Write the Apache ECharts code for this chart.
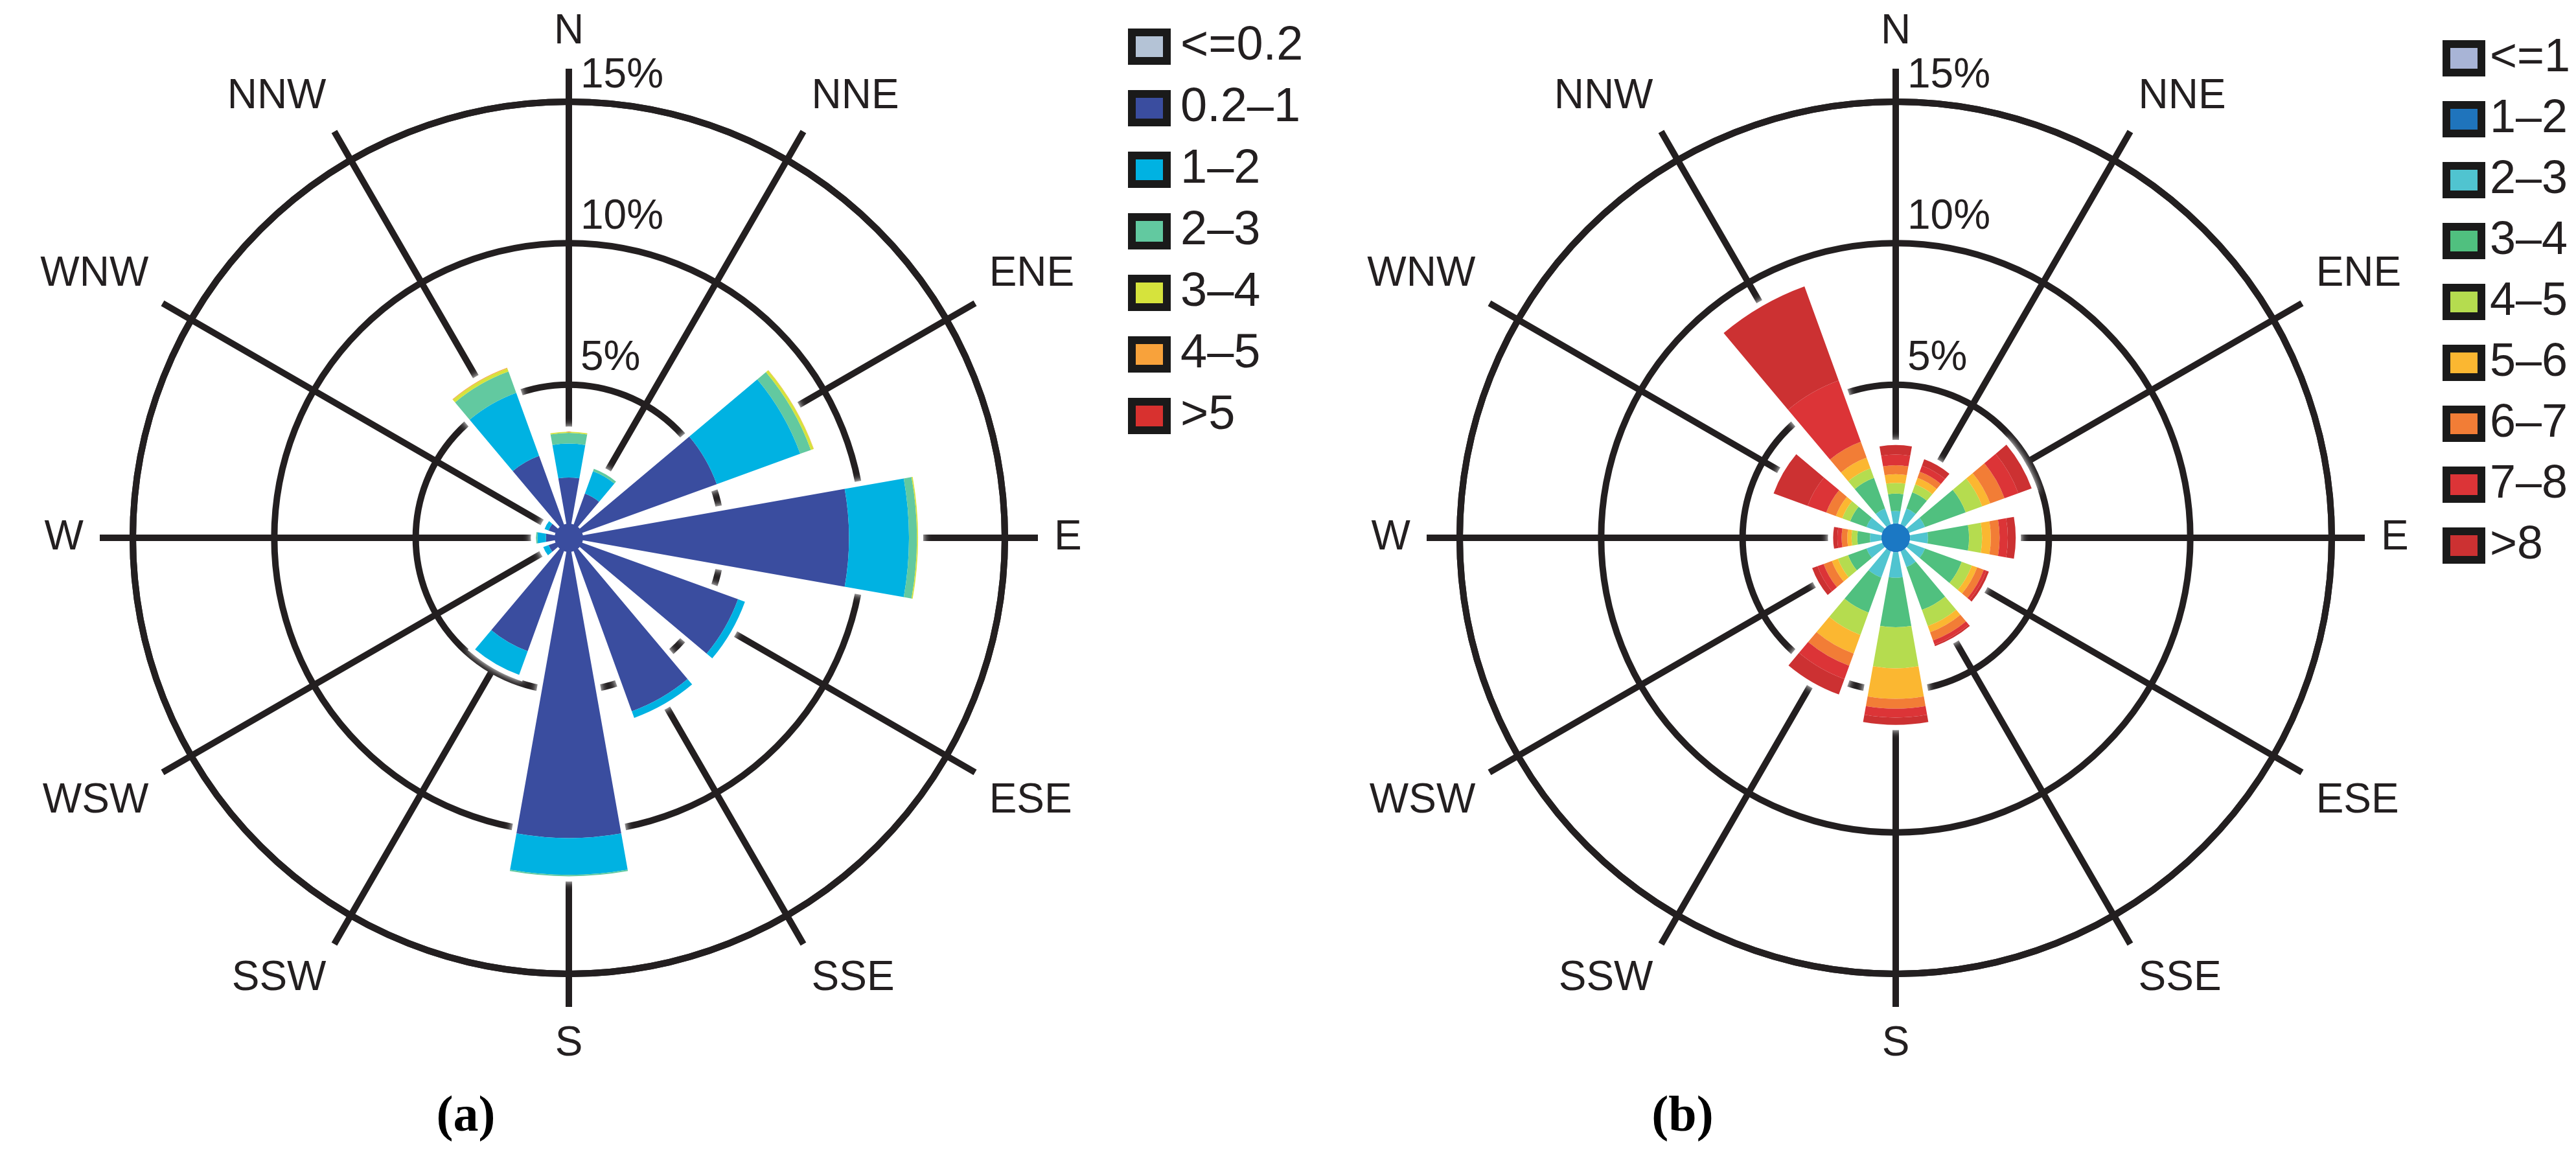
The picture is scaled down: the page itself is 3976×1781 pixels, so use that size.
<!DOCTYPE html>
<html>
<head>
<meta charset="utf-8">
<script src="https://cdn.jsdelivr.net/npm/echarts@6/dist/echarts.min.js"></script>
<style>
html,body{margin:0;padding:0;background:#ffffff;}
#chart{width:3976px;height:1781px;}
</style>
</head>
<body>
<div id="chart"></div>
<script>
// ---------- data ----------
const directions = ['N','NNE','ENE','E','ESE','SSE','S','SSW','WSW','W','WNW','NNW'];
const radiusTicks = [0, 5, 10, 15];

// (a) speed bins
const binsA = ['<=0.2','0.2–1','1–2','2–3','3–4','4–5','>5'];
const aLe02  = [0.05,0.05,0.05,0.05,0.05,0.05,0.05,0.05,0.05,0.05,0.05,0.05];
const a02to1 = [1.67,1.20,5.10,9.44,5.90,6.06,10.15,3.80,0.30,0.35,0.30,2.62];
const a1to2  = [1.20,0.84,3.14,2.12,0.26,0.25,1.30,0.89,0.20,0.30,0.15,2.37];
const a2to3  = [0.38,0.09,0.40,0.28,0.00,0.00,0.05,0.00,0.00,0.05,0.00,0.80];
const a3to4  = [0.04,0.00,0.10,0.04,0.00,0.00,0.00,0.00,0.00,0.00,0.00,0.12];
const a4to5  = [0.00,0.00,0.01,0.00,0.00,0.00,0.00,0.00,0.00,0.00,0.00,0.02];
const aGt5   = [0,0,0,0,0,0,0,0,0,0,0,0];

// (b) speed bins
const binsB = ['<=1','1–2','2–3','3–4','4–5','5–6','6–7','7–8','>8'];
const bLe1  = [0.02,0.02,0.02,0.02,0.02,0.02,0.02,0.02,0.02,0.02,0.02,0.02];
const b1to2 = [0.08,0.08,0.08,0.08,0.08,0.08,0.08,0.08,0.08,0.08,0.08,0.08];
const b2to3 = [0.44,0.59,0.59,0.63,0.59,0.59,0.90,0.98,0.59,0.40,0.59,0.59];
const b3to4 = [0.61,0.61,1.53,1.45,1.38,1.61,1.75,1.32,0.69,0.45,0.61,1.15];
const b4to5 = [0.38,0.30,0.62,0.46,0.38,0.61,1.45,0.84,0.38,0.20,0.30,0.36];
const b5to6 = [0.31,0.24,0.30,0.31,0.20,0.23,1.08,0.70,0.23,0.15,0.24,0.40];
const b6to7 = [0.31,0.23,0.54,0.31,0.25,0.31,0.35,0.46,0.31,0.20,0.36,0.60];
const b7to8 = [0.38,0.23,0.52,0.29,0.10,0.15,0.31,0.50,0.23,0.15,0.70,2.30];
const bGt8  = [0.34,0.24,0.50,0.28,0.09,0.06,0.26,0.58,0.20,0.15,1.28,3.54];

// center hub (calm circle)
const hubA = [1];
const hubB = [1];

// ---------- styles ----------
const colorsA = ['#b4c3d6','#3a4d9f','#00b2e2','#62c9a0','#d6e33c','#f8a23b','#d8312f'];
const colorsB = ['#a8b4d6','#1f74bc','#50c4d0','#50c07f','#b5dc4f','#fbb731','#f27d36','#dc3437','#cc3132'];
const INK = '#231f20';
const FONT = '"Liberation Sans", Arial, Helvetica, sans-serif';
const R_IN = 18, R_OUT = 673;
const centerA = [878, 830];
const centerB = [2926, 830];

const valuesA = [aLe02, a02to1, a1to2, a2to3, a3to4, a4to5, aGt5];
const valuesB = [bLe1, b1to2, b2to3, b3to4, b4to5, b5to6, b6to7, b7to8, bGt8];
const namesB = binsB.map(n => 'b:' + n);
const STEP = 360 / directions.length;   // 30 degrees per direction
const RMIN = radiusTicks[0], RMAX = radiusTicks[radiusTicks.length - 1], RSTEP = radiusTicks[1] - radiusTicks[0];

function totals(arrs) {
  return directions.map((d, i) => arrs.reduce((s, a) => s + a[i], 0));
}

const HIDE = { show: false };
// bar polar: category angle axis, band centred on each direction
function barAngleAxis(idx) {
  return {
    polarIndex: idx, type: 'category', data: directions, boundaryGap: true,
    startAngle: 90 + STEP / 2, clockwise: true, z: 0,
    axisLine: HIDE, axisTick: HIDE, axisLabel: HIDE, splitLine: HIDE
  };
}
// bar polar radius axis: the 5 / 10 / 15 % circles
function barRadiusAxis(idx) {
  return {
    polarIndex: idx, type: 'value', min: RMIN, max: RMAX, interval: RSTEP, z: 0,
    axisLine: HIDE, axisTick: HIDE, axisLabel: HIDE,
    splitLine: { show: true, lineStyle: { color: ['rgba(0,0,0,0)', INK, INK, INK], width: 10 } }
  };
}
// grid polar: spokes, outer circle, direction labels, % labels
function gridAngleAxis(idx) {
  return {
    polarIndex: idx, type: 'value', min: 0, max: 360, interval: STEP,
    startAngle: 90, clockwise: true, z: 0,
    axisLine: { show: true, lineStyle: { color: INK, width: 10 } },
    axisTick: { show: true, length: 51, lineStyle: { color: INK, width: 10 } },
    splitLine: { show: true, lineStyle: { color: INK, width: 10 } },
    axisLabel: {
      show: true, margin: 76, fontSize: 64, color: INK, fontFamily: FONT,
      formatter: v => (v < 360 ? directions[Math.round(v / STEP)] : '')
    }
  };
}
function gridRadiusAxis(idx) {
  return {
    polarIndex: idx, type: 'value', min: RMIN, max: RMAX, interval: RSTEP, z: 1,
    axisLine: HIDE, axisTick: HIDE, splitLine: HIDE,
    axisLabel: {
      formatter: v => (v === 0 ? '' : v + '%'),
      fontSize: 64, color: INK, fontFamily: FONT,
      margin: -18, align: 'left', verticalAlign: 'bottom', padding: [0, 0, 8, 0]
    }
  };
}

function halo(idx, arrs) {
  return {
    type: 'bar', coordinateSystem: 'polar', polarIndex: idx, name: 'halo' + idx,
    data: totals(arrs), barGap: '-100%', barCategoryGap: '33%', silent: true, z: 2,
    itemStyle: { color: '#ffffff', borderColor: '#ffffff', borderWidth: 16, shadowBlur: 12, shadowColor: '#ffffff' }
  };
}
function binSeries(idx, names, arrs, colors) {
  return names.map((n, k) => ({
    type: 'bar', coordinateSystem: 'polar', polarIndex: idx, name: n, stack: 'rose' + idx,
    data: arrs[k], barGap: '-100%', barCategoryGap: '33%', silent: true, z: 3,
    itemStyle: { color: colors[k] }
  }));
}
function hub(center, data, color) {
  return {
    type: 'pie', center: center, radius: [0, 22], data: data.map(v => ({ value: v, name: 'hub' })),
    label: { show: false }, labelLine: { show: false }, silent: true, z: 4,
    itemStyle: { color: color }
  };
}

const legendCommon = {
  orient: 'vertical', icon: 'rect', itemWidth: 54, itemHeight: 44, selectedMode: false,
  itemStyle: { borderColor: '#1a1a1a', borderWidth: 12 }
};

const option = {
  animation: false,
  backgroundColor: '#ffffff',
  polar: [
    { center: centerA, radius: [R_IN, R_OUT] },
    { center: centerB, radius: [R_IN, R_OUT] },
    { center: centerA, radius: [R_IN, R_OUT] },
    { center: centerB, radius: [R_IN, R_OUT] }
  ],
  angleAxis: [barAngleAxis(0), barAngleAxis(1), gridAngleAxis(2), gridAngleAxis(3)],
  radiusAxis: [barRadiusAxis(0), barRadiusAxis(1), gridRadiusAxis(2), gridRadiusAxis(3)],
  legend: [
    Object.assign({}, legendCommon, {
      data: binsA, left: 1736, top: 30, itemGap: 21,
      textStyle: { fontSize: 74, color: INK, fontFamily: FONT, padding: [0, 0, 0, 16] }
    }),
    Object.assign({}, legendCommon, {
      data: namesB, left: 3765, top: 49, itemGap: 22,
      formatter: n => n.slice(2),
      textStyle: { fontSize: 72, color: INK, fontFamily: FONT, padding: [0, 0, 0, 8] }
    })
  ],
  graphic: [
    { type: 'text', x: 719, y: 1725, silent: true,
      style: { text: '(a)', font: 'bold 78px "Liberation Serif", "Times New Roman", serif', fill: '#000',
               align: 'center', verticalAlign: 'middle', textAlign: 'center', textVerticalAlign: 'middle' } },
    { type: 'text', x: 2597, y: 1725, silent: true,
      style: { text: '(b)', font: 'bold 78px "Liberation Serif", "Times New Roman", serif', fill: '#000',
               align: 'center', verticalAlign: 'middle', textAlign: 'center', textVerticalAlign: 'middle' } }
  ],
  series: [
    halo(0, valuesA),
    halo(1, valuesB),
    ...binSeries(0, binsA, valuesA, colorsA),
    ...binSeries(1, namesB, valuesB, colorsB),
    hub(centerA, hubA, '#3a4d9f'),
    hub(centerB, hubB, '#1b78c4')
  ]
};

const chart = echarts.init(document.getElementById('chart'));
chart.setOption(option);
</script>
</body>
</html>
